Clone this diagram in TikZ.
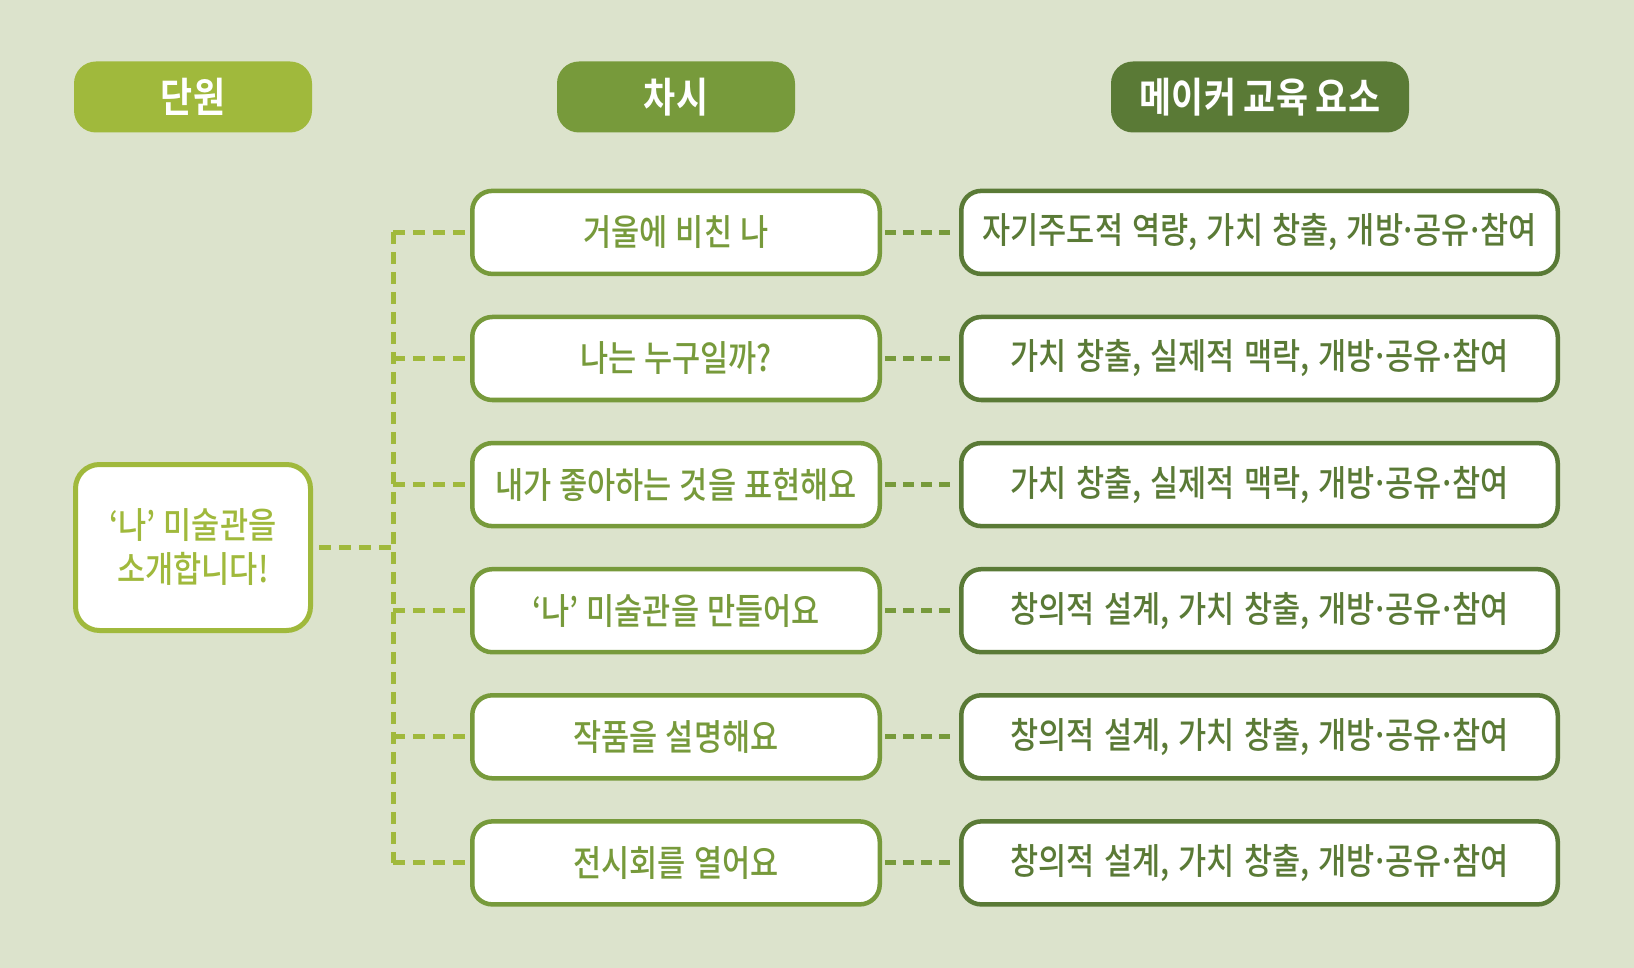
\documentclass[tikz,border=0pt]{standalone}
\usepackage{fontspec}
\IfFontExistsTF{Noto Sans CJK KR Medium}
  {\newfontfamily\kr[FakeStretch=0.85]{Noto Sans CJK KR Medium}%
   \newfontfamily\krw[FakeStretch=0.85,WordSpace=1.15]{Noto Sans CJK KR Medium}}
  {\newfontfamily\kr[FakeStretch=0.85,FakeBold=0.6]{Noto Sans CJK KR}%
   \newfontfamily\krw[FakeStretch=0.85,FakeBold=0.6,WordSpace=1.15]{Noto Sans CJK KR}}
\newfontfamily\krb[FakeStretch=0.85]{Noto Sans CJK KR Bold}
\newcommand{\md}{\kern-0.1em·\kern-0.1em}
\definecolor{bg}{HTML}{DCE3CC}
\definecolor{lg}{HTML}{A0B93C}
\definecolor{mg}{HTML}{779A3B}
\definecolor{dg}{HTML}{5A7A36}
\begin{document}
\begin{tikzpicture}[x=1pt,y=-1pt,
  hdr/.style={rounded corners=22pt, minimum width=238pt, minimum height=71pt, inner sep=0pt,
    text=white, font=\krb\fontsize{41}{44}\selectfont},
  midbox/.style={draw=mg, line width=4.5pt, fill=white, rounded corners=20pt,
    minimum width=407.5pt, minimum height=83pt, inner sep=0pt, text=mg,
    font=\kr\fontsize{36}{40}\selectfont},
  rightbox/.style={draw=dg, line width=4.5pt, fill=white, rounded corners=20pt,
    minimum width=596.5pt, minimum height=83pt, inner sep=0pt, text=dg,
    font=\krw\fontsize{36}{40}\selectfont},
  leftbox/.style={draw=lg, line width=5pt, fill=white, rounded corners=24pt,
    minimum width=235pt, minimum height=166pt, inner sep=0pt, text=lg, align=center,
    font=\kr\fontsize{36}{44}\selectfont},
  conn/.style={line width=5pt, dash pattern=on 12pt off 8pt}
]
\useasboundingbox[fill=bg] (0,0) rectangle (1634,968);

\node[hdr, fill=lg] (h1) at (193,97) {단원};
\node[hdr, fill=mg] (h2) at (676,97) {차시};
\node[hdr, fill=dg, minimum width=298pt] (h3) at (1260,97) {메이커 교육 요소};

\node[leftbox] (L) at (193,547.5) {‘나’ 미술관을\\소개합니다!};

\node[midbox] (m1) at (676,232.4) {거울에 비친 나};
\node[midbox] (m2) at (676,358.5) {나는 누구일까?};
\node[midbox] (m3) at (676,484.6) {내가 좋아하는 것을 표현해요};
\node[midbox] (m4) at (676,610.7) {‘나’ 미술관을 만들어요};
\node[midbox] (m5) at (676,736.8) {작품을 설명해요};
\node[midbox] (m6) at (676,862.9) {전시회를 열어요};

\node[rightbox] (r1) at (1259.5,232.4) {자기주도적 역량, 가치 창출, 개방\md 공유\md 참여};
\node[rightbox] (r2) at (1259.5,358.5) {가치 창출, 실제적 맥락, 개방\md 공유\md 참여};
\node[rightbox] (r3) at (1259.5,484.6) {가치 창출, 실제적 맥락, 개방\md 공유\md 참여};
\node[rightbox] (r4) at (1259.5,610.7) {창의적 설계, 가치 창출, 개방\md 공유\md 참여};
\node[rightbox] (r5) at (1259.5,736.8) {창의적 설계, 가치 창출, 개방\md 공유\md 참여};
\node[rightbox] (r6) at (1259.5,862.9) {창의적 설계, 가치 창출, 개방\md 공유\md 참여};

\coordinate (T) at (393,0);
\draw[conn, lg] ([xshift=6pt]L.east) -- (T |- L.east);
\draw[conn, lg] (T |- m1.west) -- (T |- m6.west);
\foreach \i in {1,...,6}{
  \draw[conn, lg] (T |- m\i.west) -- ([xshift=-2.5pt]m\i.west);
  \draw[conn, mg, dash pattern=on 11pt off 7pt] ([xshift=3pt]m\i.east) -- ([xshift=-2.5pt]r\i.west);
}
\end{tikzpicture}
\end{document}
